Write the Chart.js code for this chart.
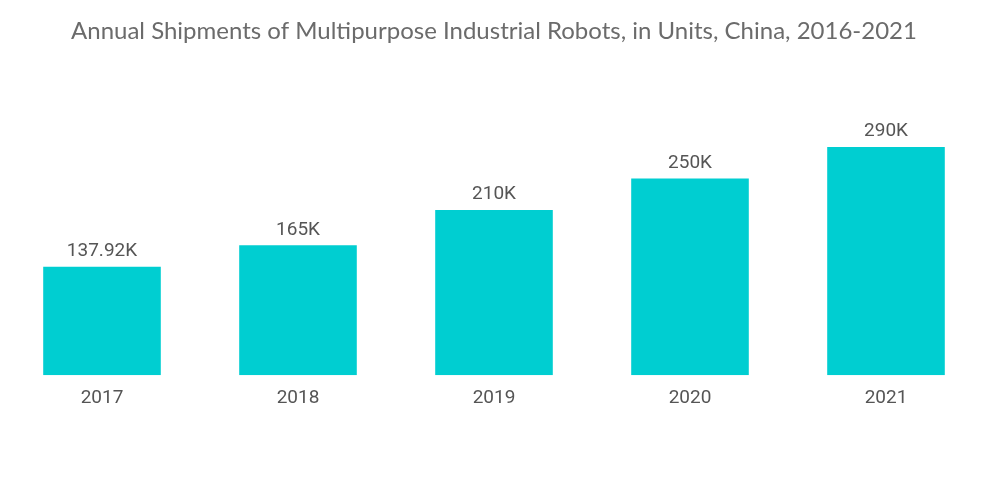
<!DOCTYPE html>
<html><head><meta charset="utf-8">
<script src="https://cdn.jsdelivr.net/npm/chart.js@4"></script>
<style>html,body{margin:0;padding:0;background:#fff}#wrap{width:1000px;height:504px}</style>
</head><body><div id="wrap"><canvas id="c"></canvas></div>
<script>
const categories = ["2017", "2018", "2019", "2020", "2021"];
const shipments = [137.92, 165, 210, 250, 290];
const valueLabels = ["137.92K", "165K", "210K", "250K", "290K"];

const labelPlugin = {
  id: 'valLabels',
  afterDatasetsDraw(chart) {
    const ctx = chart.ctx;
    const meta = chart.getDatasetMeta(0);
    ctx.save();
    ctx.font = '19px Roboto';
    ctx.fillStyle = '#555555';
    ctx.textAlign = 'center';
    ctx.textBaseline = 'bottom';
    meta.data.forEach((bar, i) => {
      ctx.fillText(valueLabels[i], bar.x, bar.y - 6);
    });
    ctx.restore();
  }
};

new Chart(document.getElementById('c'), {
  type: 'bar',
  data: {
    labels: categories,
    datasets: [{
      data: shipments,
      backgroundColor: '#00CED1',
      categoryPercentage: 1,
      barPercentage: 0.6
    }]
  },
  plugins: [labelPlugin],
  options: {
    responsive: true,
    maintainAspectRatio: false,
    animation: false,
    layout: { padding: { left: 4, right: 16, top: 0, bottom: 82 } },
    plugins: {
      legend: { display: false },
      tooltip: { enabled: false },
      title: {
        display: true,
        text: 'Annual Shipments of Multipurpose Industrial Robots, in Units, China, 2016-2021',
        color: '#6b6b6b',
        font: { family: 'Lato', size: 24, weight: 'normal' },
        padding: { top: 17, bottom: 54 }
      }
    },
    scales: {
      x: {
        grid: { display: false, drawTicks: false },
        border: { display: false },
        ticks: { color: '#555555', font: { family: 'Roboto', size: 19 }, padding: 12 }
      },
      y: {
        display: false,
        min: 0,
        max: 350
      }
    }
  }
});
</script>
</body></html>
